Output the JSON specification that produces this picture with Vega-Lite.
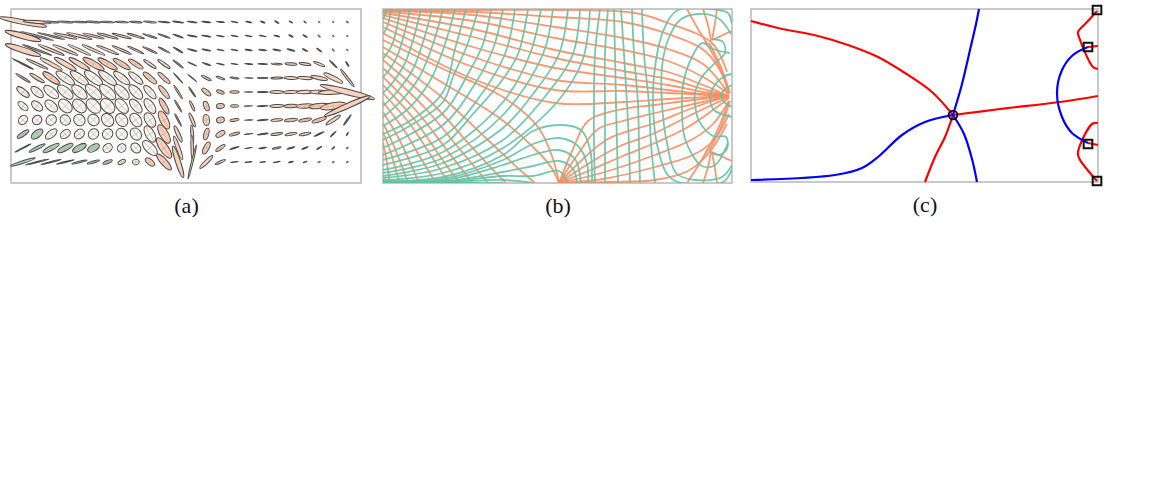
{"$schema":"https://vega.github.io/schema/vega-lite/v6.json","background":"white","padding":{"left":-4,"top":0,"right":0,"bottom":0},"spacing":12,"resolve":{"scale":{"color":"independent","shape":"independent"}},"config":{"view":{"stroke":"#b8b8b8","strokeWidth":1.5},"axis":{"titleFont":"Liberation Serif","titleFontSize":22,"titleFontWeight":"normal","titleColor":"#111","titlePadding":12}},
"hconcat":[{"bounds":"flush","spacing":22,"resolve":{"scale":{"color":"independent","shape":"independent"}},"hconcat":[
{"width":350,"height":174,"data":{"values":[
{"c":0,"r":0,"l":48,"a":10,"t":11,"k":"p"},{"c":1,"r":0,"l":28,"a":10,"t":4,"k":"p"},{"c":2,"r":0,"l":16,"a":10,"t":3,"k":"p"},{"c":3,"r":0,"l":16,"a":10,"t":3,"k":"p"},{"c":4,"r":0,"l":15,"a":10,"t":3,"k":"p"},{"c":5,"r":0,"l":15,"a":10,"t":4,"k":"p"},{"c":6,"r":0,"l":14,"a":10,"t":4,"k":"p"},{"c":7,"r":0,"l":14,"a":10,"t":4,"k":"p"},{"c":8,"r":0,"l":13,"a":10,"t":5,"k":"p"},{"c":9,"r":0,"l":13,"a":10,"t":6,"k":"p"},{"c":10,"r":0,"l":12,"a":10,"t":6,"k":"p"},{"c":11,"r":0,"l":11,"a":10,"t":8,"k":"p"},{"c":12,"r":0,"l":10,"a":10,"t":8,"k":"p"},{"c":13,"r":0,"l":9,"a":10,"t":6,"k":"p"},{"c":14,"r":0,"l":8,"a":10,"t":6,"k":"p"},{"c":15,"r":0,"l":7,"a":10,"t":10,"k":"p"},{"c":16,"r":0,"l":6,"a":15,"t":12,"k":"p"},{"c":17,"r":0,"l":5,"a":20,"t":20,"k":"p"},{"c":18,"r":0,"l":5,"a":20,"t":30,"k":"p"},{"c":19,"r":0,"l":4,"a":20,"t":30,"k":"p"},{"c":20,"r":0,"l":3,"a":20,"t":40,"k":"p"},{"c":21,"r":0,"l":2,"a":30,"t":40,"k":"p"},{"c":22,"r":0,"l":1.5,"a":50,"t":40,"k":"p"},{"c":23,"r":0,"l":2,"a":50,"t":40,"k":"p"},
{"c":0,"r":1,"l":37,"a":15,"t":15,"k":"p"},{"c":1,"r":1,"l":34,"a":5,"t":15,"k":"p"},{"c":2,"r":1,"l":28,"a":5,"t":14,"k":"p"},{"c":3,"r":1,"l":24,"a":10,"t":14,"k":"p"},{"c":4,"r":1,"l":26,"a":10,"t":14,"k":"p"},{"c":5,"r":1,"l":22,"a":10,"t":14,"k":"p"},{"c":6,"r":1,"l":22,"a":10,"t":15,"k":"p"},{"c":7,"r":1,"l":20,"a":10,"t":15,"k":"p"},{"c":8,"r":1,"l":18,"a":10,"t":17,"k":"p"},{"c":9,"r":1,"l":15,"a":10,"t":18,"k":"p"},{"c":10,"r":1,"l":13,"a":10,"t":20,"k":"p"},{"c":11,"r":1,"l":11,"a":10,"t":20,"k":"p"},{"c":12,"r":1,"l":10,"a":10,"t":10,"k":"p"},{"c":13,"r":1,"l":9,"a":10,"t":10,"k":"p"},{"c":14,"r":1,"l":8,"a":10,"t":10,"k":"p"},{"c":15,"r":1,"l":7,"a":10,"t":10,"k":"p"},{"c":16,"r":1,"l":7,"a":10,"t":10,"k":"p"},{"c":17,"r":1,"l":7,"a":10,"t":12,"k":"p"},{"c":18,"r":1,"l":6,"a":15,"t":15,"k":"p"},{"c":19,"r":1,"l":5,"a":20,"t":25,"k":"p"},{"c":20,"r":1,"l":5,"a":20,"t":30,"k":"p"},{"c":21,"r":1,"l":3,"a":25,"t":45,"k":"p"},{"c":22,"r":1,"l":2,"a":30,"t":45,"k":"p"},{"c":23,"r":1,"l":1.5,"a":50,"t":45,"k":"p"},
{"c":0,"r":2,"l":37,"a":15,"t":18,"k":"p"},{"c":1,"r":2,"l":31,"a":5,"t":20,"k":"p"},{"c":2,"r":2,"l":28,"a":10,"t":22,"k":"p"},{"c":3,"r":2,"l":27,"a":10,"t":22,"k":"p"},{"c":4,"r":2,"l":25,"a":10,"t":25,"k":"p"},{"c":5,"r":2,"l":25,"a":10,"t":24,"k":"p"},{"c":6,"r":2,"l":24,"a":10,"t":22,"k":"p"},{"c":7,"r":2,"l":21,"a":10,"t":24,"k":"p"},{"c":8,"r":2,"l":18,"a":10,"t":25,"k":"p"},{"c":9,"r":2,"l":16,"a":10,"t":25,"k":"p"},{"c":10,"r":2,"l":13,"a":10,"t":27,"k":"p"},{"c":11,"r":2,"l":11,"a":10,"t":30,"k":"p"},{"c":12,"r":2,"l":10,"a":10,"t":15,"k":"p"},{"c":13,"r":2,"l":9,"a":10,"t":12,"k":"p"},{"c":14,"r":2,"l":7,"a":10,"t":10,"k":"p"},{"c":15,"r":2,"l":7,"a":10,"t":10,"k":"p"},{"c":16,"r":2,"l":7,"a":15,"t":8,"k":"p"},{"c":17,"r":2,"l":8,"a":15,"t":6,"k":"p"},{"c":18,"r":2,"l":8,"a":15,"t":10,"k":"p"},{"c":19,"r":2,"l":8,"a":15,"t":15,"k":"p"},{"c":20,"r":2,"l":6,"a":15,"t":25,"k":"p"},{"c":21,"r":2,"l":6,"a":15,"t":35,"k":"p"},{"c":22,"r":2,"l":3,"a":25,"t":50,"k":"p"},{"c":23,"r":2,"l":2,"a":30,"t":50,"k":"p"},
{"c":0,"r":3,"l":24,"a":5,"t":27,"k":"p"},{"c":1,"r":3,"l":24,"a":10,"t":25,"k":"p"},{"c":2,"r":3,"l":25,"a":15,"t":28,"k":"p"},{"c":3,"r":3,"l":25,"a":20,"t":30,"k":"p"},{"c":4,"r":3,"l":24,"a":20,"t":30,"k":"p"},{"c":5,"r":3,"l":24,"a":25,"t":30,"k":"p"},{"c":6,"r":3,"l":22,"a":25,"t":30,"k":"p"},{"c":7,"r":3,"l":20,"a":25,"t":32,"k":"p"},{"c":8,"r":3,"l":17,"a":25,"t":32,"k":"p"},{"c":9,"r":3,"l":15,"a":20,"t":35,"k":"p"},{"c":10,"r":3,"l":15,"a":20,"t":35,"k":"p"},{"c":11,"r":3,"l":13,"a":10,"t":38,"k":"p"},{"c":12,"r":3,"l":10,"a":5,"t":25,"k":"p"},{"c":13,"r":3,"l":9,"a":10,"t":20,"k":"p"},{"c":14,"r":3,"l":8,"a":10,"t":12,"k":"p"},{"c":15,"r":3,"l":7,"a":10,"t":8,"k":"p"},{"c":16,"r":3,"l":8,"a":10,"t":5,"k":"p"},{"c":17,"r":3,"l":10,"a":10,"t":3,"k":"p"},{"c":18,"r":3,"l":11,"a":15,"t":3,"k":"p"},{"c":19,"r":3,"l":12,"a":20,"t":5,"k":"p"},{"c":20,"r":3,"l":12,"a":20,"t":10,"k":"p"},{"c":21,"r":3,"l":12,"a":20,"t":22,"k":"p"},{"c":22,"r":3,"l":11,"a":10,"t":45,"k":"p"},{"c":23,"r":3,"l":6,"a":15,"t":60,"k":"p"},
{"c":0,"r":4,"l":17,"a":10,"t":32,"k":"p"},{"c":1,"r":4,"l":17,"a":20,"t":32,"k":"p"},{"c":2,"r":4,"l":20,"a":30,"t":35,"k":"p"},{"c":3,"r":4,"l":22,"a":35,"t":35,"k":"w"},{"c":4,"r":4,"l":22,"a":35,"t":37,"k":"w"},{"c":5,"r":4,"l":22,"a":40,"t":38,"k":"w"},{"c":6,"r":4,"l":22,"a":35,"t":38,"k":"w"},{"c":7,"r":4,"l":20,"a":35,"t":38,"k":"w"},{"c":8,"r":4,"l":18,"a":35,"t":40,"k":"w"},{"c":9,"r":4,"l":17,"a":30,"t":40,"k":"p"},{"c":10,"r":4,"l":16,"a":25,"t":42,"k":"p"},{"c":11,"r":4,"l":14,"a":5,"t":48,"k":"p"},{"c":12,"r":4,"l":12,"a":5,"t":40,"k":"p"},{"c":13,"r":4,"l":11,"a":20,"t":28,"k":"p"},{"c":14,"r":4,"l":9,"a":20,"t":20,"k":"p"},{"c":15,"r":4,"l":9,"a":15,"t":8,"k":"p"},{"c":16,"r":4,"l":9,"a":5,"t":2,"k":"p"},{"c":17,"r":4,"l":11,"a":10,"t":0,"k":"p"},{"c":18,"r":4,"l":12,"a":15,"t":-1,"k":"p"},{"c":19,"r":4,"l":14,"a":20,"t":2,"k":"p"},{"c":20,"r":4,"l":15,"a":20,"t":5,"k":"p"},{"c":21,"r":4,"l":17,"a":20,"t":12,"k":"p"},{"c":22,"r":4,"l":21,"a":20,"t":27,"k":"p"},{"c":23,"r":4,"l":22,"a":10,"t":52,"k":"p"},
{"c":0,"r":5,"l":15,"a":40,"t":38,"k":"w"},{"c":1,"r":5,"l":15,"a":50,"t":40,"k":"w"},{"c":2,"r":5,"l":18,"a":50,"t":40,"k":"w"},{"c":3,"r":5,"l":19,"a":50,"t":40,"k":"w"},{"c":4,"r":5,"l":19,"a":50,"t":42,"k":"w"},{"c":5,"r":5,"l":20,"a":50,"t":42,"k":"w"},{"c":6,"r":5,"l":20,"a":50,"t":42,"k":"w"},{"c":7,"r":5,"l":19,"a":50,"t":45,"k":"w"},{"c":8,"r":5,"l":18,"a":50,"t":47,"k":"w"},{"c":9,"r":5,"l":17,"a":40,"t":48,"k":"w"},{"c":10,"r":5,"l":16,"a":30,"t":52,"k":"p"},{"c":11,"r":5,"l":16,"a":10,"t":58,"k":"p"},{"c":12,"r":5,"l":12,"a":10,"t":55,"k":"p"},{"c":13,"r":5,"l":11,"a":40,"t":40,"k":"p"},{"c":14,"r":5,"l":8,"a":40,"t":20,"k":"p"},{"c":15,"r":5,"l":10,"a":25,"t":0,"k":"p"},{"c":16,"r":5,"l":9,"a":5,"t":-1,"k":"p"},{"c":17,"r":5,"l":11,"a":10,"t":-1,"k":"p"},{"c":18,"r":5,"l":14,"a":20,"t":-1,"k":"p"},{"c":19,"r":5,"l":15,"a":20,"t":-2,"k":"p"},{"c":20,"r":5,"l":17,"a":20,"t":-2,"k":"p"},{"c":21,"r":5,"l":19,"a":20,"t":0,"k":"p"},{"c":22,"r":5,"l":30,"a":15,"t":-3,"k":"p"},{"c":23,"r":5,"l":56,"a":10,"t":14,"k":"p"},
{"c":0,"r":6,"l":12,"a":50,"t":40,"k":"w"},{"c":1,"r":6,"l":13,"a":60,"t":40,"k":"w"},{"c":2,"r":6,"l":15,"a":60,"t":42,"k":"w"},{"c":3,"r":6,"l":16,"a":70,"t":45,"k":"w"},{"c":4,"r":6,"l":16,"a":70,"t":45,"k":"w"},{"c":5,"r":6,"l":17,"a":70,"t":45,"k":"w"},{"c":6,"r":6,"l":17,"a":70,"t":47,"k":"w"},{"c":7,"r":6,"l":17,"a":60,"t":50,"k":"w"},{"c":8,"r":6,"l":17,"a":50,"t":50,"k":"w"},{"c":9,"r":6,"l":17,"a":50,"t":55,"k":"w"},{"c":10,"r":6,"l":18,"a":30,"t":60,"k":"p"},{"c":11,"r":6,"l":14,"a":10,"t":60,"k":"p"},{"c":12,"r":6,"l":11,"a":20,"t":65,"k":"p"},{"c":13,"r":6,"l":10,"a":50,"t":70,"k":"p"},{"c":14,"r":6,"l":8,"a":60,"t":-5,"k":"p"},{"c":15,"r":6,"l":9,"a":30,"t":0,"k":"p"},{"c":16,"r":6,"l":9,"a":5,"t":-2,"k":"p"},{"c":17,"r":6,"l":11,"a":10,"t":-2,"k":"p"},{"c":18,"r":6,"l":14,"a":20,"t":-2,"k":"p"},{"c":19,"r":6,"l":14,"a":25,"t":-2,"k":"p"},{"c":20,"r":6,"l":17,"a":25,"t":-3,"k":"p"},{"c":21,"r":6,"l":20,"a":25,"t":-5,"k":"p"},{"c":22,"r":6,"l":26,"a":25,"t":-10,"k":"p"},{"c":23,"r":6,"l":50,"a":10,"t":-24,"k":"p"},
{"c":0,"r":7,"l":10,"a":80,"t":-45,"k":"w"},{"c":1,"r":7,"l":10,"a":90,"t":-45,"k":"w"},{"c":2,"r":7,"l":11,"a":90,"t":-45,"k":"w"},{"c":3,"r":7,"l":11,"a":90,"t":45,"k":"w"},{"c":4,"r":7,"l":12,"a":90,"t":45,"k":"w"},{"c":5,"r":7,"l":12,"a":90,"t":45,"k":"w"},{"c":6,"r":7,"l":14,"a":80,"t":50,"k":"w"},{"c":7,"r":7,"l":14,"a":80,"t":52,"k":"w"},{"c":8,"r":7,"l":15,"a":70,"t":55,"k":"w"},{"c":9,"r":7,"l":16,"a":60,"t":58,"k":"w"},{"c":10,"r":7,"l":20,"a":40,"t":63,"k":"p"},{"c":11,"r":7,"l":14,"a":10,"t":62,"k":"p"},{"c":12,"r":7,"l":15,"a":20,"t":68,"k":"p"},{"c":13,"r":7,"l":11,"a":60,"t":85,"k":"p"},{"c":14,"r":7,"l":8,"a":70,"t":-10,"k":"p"},{"c":15,"r":7,"l":9,"a":30,"t":-8,"k":"p"},{"c":16,"r":7,"l":9,"a":5,"t":-4,"k":"p"},{"c":17,"r":7,"l":11,"a":10,"t":-5,"k":"p"},{"c":18,"r":7,"l":12,"a":20,"t":-5,"k":"p"},{"c":19,"r":7,"l":13,"a":25,"t":-6,"k":"p"},{"c":20,"r":7,"l":13,"a":25,"t":-10,"k":"p"},{"c":21,"r":7,"l":15,"a":25,"t":-18,"k":"p"},{"c":22,"r":7,"l":17,"a":20,"t":-33,"k":"p"},{"c":23,"r":7,"l":13,"a":10,"t":-55,"k":"p"},
{"c":0,"r":8,"l":14,"a":30,"t":-35,"k":"g"},{"c":1,"r":8,"l":14,"a":50,"t":-38,"k":"g"},{"c":2,"r":8,"l":14,"a":50,"t":-40,"k":"w"},{"c":3,"r":8,"l":11,"a":70,"t":-40,"k":"w"},{"c":4,"r":8,"l":11,"a":80,"t":-40,"k":"w"},{"c":5,"r":8,"l":11,"a":90,"t":-45,"k":"w"},{"c":6,"r":8,"l":11,"a":90,"t":-45,"k":"w"},{"c":7,"r":8,"l":12,"a":90,"t":45,"k":"w"},{"c":8,"r":8,"l":13,"a":80,"t":55,"k":"w"},{"c":9,"r":8,"l":18,"a":50,"t":60,"k":"w"},{"c":10,"r":8,"l":21,"a":40,"t":60,"k":"p"},{"c":11,"r":8,"l":18,"a":20,"t":65,"k":"p"},{"c":12,"r":8,"l":18,"a":15,"t":85,"k":"p"},{"c":13,"r":8,"l":12,"a":40,"t":-75,"k":"p"},{"c":14,"r":8,"l":10,"a":50,"t":-30,"k":"p"},{"c":15,"r":8,"l":11,"a":25,"t":-15,"k":"p"},{"c":16,"r":8,"l":9,"a":5,"t":-8,"k":"p"},{"c":17,"r":8,"l":11,"a":10,"t":-8,"k":"p"},{"c":18,"r":8,"l":12,"a":20,"t":-8,"k":"p"},{"c":19,"r":8,"l":12,"a":20,"t":-10,"k":"p"},{"c":20,"r":8,"l":12,"a":20,"t":-12,"k":"p"},{"c":21,"r":8,"l":11,"a":10,"t":-25,"k":"p"},{"c":22,"r":8,"l":8,"a":10,"t":-45,"k":"p"},{"c":23,"r":8,"l":4,"a":20,"t":-60,"k":"p"},
{"c":0,"r":9,"l":18,"a":5,"t":-27,"k":"g"},{"c":1,"r":9,"l":18,"a":15,"t":-27,"k":"g"},{"c":2,"r":9,"l":18,"a":25,"t":-28,"k":"g"},{"c":3,"r":9,"l":17,"a":30,"t":-28,"k":"g"},{"c":4,"r":9,"l":15,"a":40,"t":-28,"k":"g"},{"c":5,"r":9,"l":13,"a":50,"t":-28,"k":"g"},{"c":6,"r":9,"l":10,"a":80,"t":-40,"k":"w"},{"c":7,"r":9,"l":9,"a":90,"t":-45,"k":"w"},{"c":8,"r":9,"l":11,"a":80,"t":45,"k":"w"},{"c":9,"r":9,"l":19,"a":50,"t":45,"k":"w"},{"c":10,"r":9,"l":24,"a":35,"t":55,"k":"p"},{"c":11,"r":9,"l":25,"a":15,"t":70,"k":"p"},{"c":12,"r":9,"l":25,"a":10,"t":88,"k":"p"},{"c":13,"r":9,"l":13,"a":40,"t":-62,"k":"p"},{"c":14,"r":9,"l":11,"a":30,"t":-35,"k":"p"},{"c":15,"r":9,"l":10,"a":10,"t":-18,"k":"p"},{"c":16,"r":9,"l":8,"a":5,"t":-10,"k":"p"},{"c":17,"r":9,"l":8,"a":10,"t":-10,"k":"p"},{"c":18,"r":9,"l":9,"a":15,"t":-12,"k":"p"},{"c":19,"r":9,"l":8,"a":15,"t":-15,"k":"p"},{"c":20,"r":9,"l":7,"a":15,"t":-22,"k":"p"},{"c":21,"r":9,"l":6,"a":15,"t":-30,"k":"p"},{"c":22,"r":9,"l":4,"a":20,"t":-40,"k":"p"},{"c":23,"r":9,"l":2,"a":50,"t":-40,"k":"p"},
{"c":0,"r":10,"l":26,"a":10,"t":-18,"k":"g"},{"c":1,"r":10,"l":24,"a":5,"t":-14,"k":"g"},{"c":2,"r":10,"l":21,"a":5,"t":-14,"k":"g"},{"c":3,"r":10,"l":18,"a":5,"t":-14,"k":"g"},{"c":4,"r":10,"l":16,"a":10,"t":-14,"k":"g"},{"c":5,"r":10,"l":13,"a":15,"t":-16,"k":"g"},{"c":6,"r":10,"l":10,"a":30,"t":-20,"k":"g"},{"c":7,"r":10,"l":8,"a":50,"t":-25,"k":"w"},{"c":8,"r":10,"l":7,"a":80,"t":0,"k":"w"},{"c":9,"r":10,"l":11,"a":50,"t":40,"k":"p"},{"c":10,"r":10,"l":21,"a":30,"t":48,"k":"p"},{"c":11,"r":10,"l":33,"a":15,"t":72,"k":"p"},{"c":12,"r":10,"l":35,"a":5,"t":-76,"k":"p"},{"c":13,"r":10,"l":18,"a":20,"t":-45,"k":"p"},{"c":14,"r":10,"l":11,"a":20,"t":-25,"k":"p"},{"c":15,"r":10,"l":8,"a":5,"t":-6,"k":"p"},{"c":16,"r":10,"l":7,"a":10,"t":-6,"k":"p"},{"c":17,"r":10,"l":6,"a":10,"t":-8,"k":"p"},{"c":18,"r":10,"l":7,"a":10,"t":-10,"k":"p"},{"c":19,"r":10,"l":5,"a":20,"t":-15,"k":"p"},{"c":20,"r":10,"l":4,"a":20,"t":-20,"k":"p"},{"c":21,"r":10,"l":2.5,"a":30,"t":-30,"k":"p"},{"c":22,"r":10,"l":2,"a":50,"t":-30,"k":"p"},{"c":23,"r":10,"l":2,"a":50,"t":-30,"k":"p"}
]},
"encoding":{"x":{"field":"c","type":"quantitative","scale":{"domain":[-0.851,23.97],"nice":false,"zero":false},"axis":{"title":"(a)","domain":false,"ticks":false,"labels":false,"grid":false}},
"y":{"field":"r","type":"quantitative","scale":{"domain":[-0.93,11.5],"reverse":true,"nice":false,"zero":false},"axis":null},
"size":{"field":"l","type":"quantitative","scale":{"type":"pow","exponent":2,"domain":[0,60],"range":[0,3600]},"legend":null},
"angle":{"field":"t","type":"quantitative","scale":{"domain":[-90,90],"range":[-90,90]}}},
"resolve":{"scale":{"shape":"independent"}},
"layer":[
{"mark":{"type":"point","filled":true,"opacity":1,"stroke":"#4a4a4a","strokeWidth":1},"encoding":{"fill":{"field":"k","type":"nominal","scale":{"domain":["p","w","g"],"range":["#f8d2bd","#f7f5ef","#a8d2bf"]},"legend":null},"shape":{"field":"a","type":"ordinal","legend":null,"scale":{"domain":[5,10,15,20,25,30,35,40,50,60,70,80,90],"range":["M-1,0A1,0.05,0,1,1,1,0A1,0.05,0,1,1,-1,0Z","M-1,0A1,0.1,0,1,1,1,0A1,0.1,0,1,1,-1,0Z","M-1,0A1,0.15,0,1,1,1,0A1,0.15,0,1,1,-1,0Z","M-1,0A1,0.2,0,1,1,1,0A1,0.2,0,1,1,-1,0Z","M-1,0A1,0.25,0,1,1,1,0A1,0.25,0,1,1,-1,0Z","M-1,0A1,0.3,0,1,1,1,0A1,0.3,0,1,1,-1,0Z","M-1,0A1,0.35,0,1,1,1,0A1,0.35,0,1,1,-1,0Z","M-1,0A1,0.4,0,1,1,1,0A1,0.4,0,1,1,-1,0Z","M-1,0A1,0.5,0,1,1,1,0A1,0.5,0,1,1,-1,0Z","M-1,0A1,0.6,0,1,1,1,0A1,0.6,0,1,1,-1,0Z","M-1,0A1,0.7,0,1,1,1,0A1,0.7,0,1,1,-1,0Z","M-1,0A1,0.8,0,1,1,1,0A1,0.8,0,1,1,-1,0Z","M-1,0A1,0.9,0,1,1,1,0A1,0.9,0,1,1,-1,0Z"]}}}},
{"transform":[{"filter":"datum.a>=25"}],"mark":{"type":"point","filled":false,"opacity":0.75,"stroke":"#fc8d62","strokeWidth":0.7,"shape":"M-1,0L1,0"},"encoding":{}},
{"transform":[{"filter":"datum.a>=25"}],"mark":{"type":"point","filled":false,"opacity":0.75,"stroke":"#66c2a5","strokeWidth":0.7},"encoding":{"shape":{"field":"a","type":"ordinal","legend":null,"scale":{"domain":[25,30,35,40,50,60,70,80,90],"range":["M0,-0.25L0,0.25","M0,-0.3L0,0.3","M0,-0.35L0,0.35","M0,-0.4L0,0.4","M0,-0.5L0,0.5","M0,-0.6L0,0.6","M0,-0.7L0,0.7","M0,-0.8L0,0.8","M0,-0.9L0,0.9"]}}}}
]},
{"width":349,"height":174,"data":{"values":[
{"n":1,"f":"o","x":0,"y":0.5},{"n":1,"f":"o","x":100,"y":1},{"n":1,"f":"o","x":172,"y":1},{"n":1,"f":"o","x":252,"y":4},{"n":1,"f":"o","x":285,"y":14},{"n":1,"f":"o","x":329,"y":34},{"n":1,"f":"o","x":344,"y":63},
{"n":2,"f":"o","x":0,"y":1},{"n":2,"f":"o","x":90,"y":3},{"n":2,"f":"o","x":172,"y":8},{"n":2,"f":"o","x":240,"y":13},{"n":2,"f":"o","x":285,"y":25},{"n":2,"f":"o","x":322,"y":42},{"n":2,"f":"o","x":342,"y":70},
{"n":3,"f":"o","x":0,"y":1.5},{"n":3,"f":"o","x":90,"y":6},{"n":3,"f":"o","x":172,"y":18},{"n":3,"f":"o","x":240,"y":29},{"n":3,"f":"o","x":285,"y":40},{"n":3,"f":"o","x":320,"y":55},{"n":3,"f":"o","x":346,"y":85},
{"n":4,"f":"o","x":0,"y":2.5},{"n":4,"f":"o","x":90,"y":12},{"n":4,"f":"o","x":172,"y":29},{"n":4,"f":"o","x":240,"y":41},{"n":4,"f":"o","x":285,"y":52},{"n":4,"f":"o","x":320,"y":68},{"n":4,"f":"o","x":346,"y":85},
{"n":5,"f":"o","x":0,"y":4},{"n":5,"f":"o","x":90,"y":20},{"n":5,"f":"o","x":172,"y":41},{"n":5,"f":"o","x":240,"y":54},{"n":5,"f":"o","x":285,"y":63},{"n":5,"f":"o","x":320,"y":76},{"n":5,"f":"o","x":346,"y":87},
{"n":6,"f":"o","x":0,"y":6},{"n":6,"f":"o","x":90,"y":28},{"n":6,"f":"o","x":172,"y":49},{"n":6,"f":"o","x":240,"y":62},{"n":6,"f":"o","x":285,"y":70},{"n":6,"f":"o","x":320,"y":80},{"n":6,"f":"o","x":346,"y":87},
{"n":7,"f":"o","x":0,"y":9},{"n":7,"f":"o","x":90,"y":38},{"n":7,"f":"o","x":172,"y":59},{"n":7,"f":"o","x":240,"y":69},{"n":7,"f":"o","x":285,"y":76},{"n":7,"f":"o","x":320,"y":83},{"n":7,"f":"o","x":346,"y":87},
{"n":8,"f":"o","x":0,"y":13},{"n":8,"f":"o","x":90,"y":48},{"n":8,"f":"o","x":172,"y":71},{"n":8,"f":"o","x":240,"y":76},{"n":8,"f":"o","x":285,"y":81},{"n":8,"f":"o","x":320,"y":85},{"n":8,"f":"o","x":346,"y":87},
{"n":9,"f":"o","x":0,"y":18},{"n":9,"f":"o","x":90,"y":58},{"n":9,"f":"o","x":172,"y":81},{"n":9,"f":"o","x":240,"y":82},{"n":9,"f":"o","x":285,"y":84},{"n":9,"f":"o","x":346,"y":87},
{"n":10,"f":"o","x":0,"y":24},{"n":10,"f":"o","x":90,"y":70},{"n":10,"f":"o","x":172,"y":94},{"n":10,"f":"o","x":240,"y":93},{"n":10,"f":"o","x":285,"y":90},{"n":10,"f":"o","x":346,"y":87},
{"n":11,"f":"o","x":176,"y":174},{"n":11,"f":"o","x":190,"y":140},{"n":11,"f":"o","x":205,"y":112},{"n":11,"f":"o","x":235,"y":101},{"n":11,"f":"o","x":272,"y":96},{"n":11,"f":"o","x":310,"y":91},{"n":11,"f":"o","x":346,"y":87},
{"n":12,"f":"o","x":176,"y":174},{"n":12,"f":"o","x":195,"y":145},{"n":12,"f":"o","x":215,"y":120},{"n":12,"f":"o","x":240,"y":112},{"n":12,"f":"o","x":272,"y":104},{"n":12,"f":"o","x":315,"y":94},{"n":12,"f":"o","x":346,"y":87},
{"n":13,"f":"o","x":176,"y":174},{"n":13,"f":"o","x":200,"y":150},{"n":13,"f":"o","x":225,"y":130},{"n":13,"f":"o","x":272,"y":114},{"n":13,"f":"o","x":315,"y":97},{"n":13,"f":"o","x":346,"y":87},
{"n":14,"f":"o","x":176,"y":174},{"n":14,"f":"o","x":205,"y":155},{"n":14,"f":"o","x":235,"y":138},{"n":14,"f":"o","x":272,"y":124},{"n":14,"f":"o","x":310,"y":105},{"n":14,"f":"o","x":346,"y":88},
{"n":15,"f":"o","x":176,"y":174},{"n":15,"f":"o","x":210,"y":160},{"n":15,"f":"o","x":240,"y":147},{"n":15,"f":"o","x":272,"y":134},{"n":15,"f":"o","x":305,"y":118},{"n":15,"f":"o","x":346,"y":89},
{"n":16,"f":"o","x":176,"y":174},{"n":16,"f":"o","x":215,"y":165},{"n":16,"f":"o","x":272,"y":146},{"n":16,"f":"o","x":310,"y":130},{"n":16,"f":"o","x":330,"y":115},{"n":16,"f":"o","x":346,"y":92},
{"n":17,"f":"o","x":176,"y":174},{"n":17,"f":"o","x":220,"y":170},{"n":17,"f":"o","x":272,"y":158},{"n":17,"f":"o","x":310,"y":146},{"n":17,"f":"o","x":330,"y":132},{"n":17,"f":"o","x":346,"y":105},
{"n":18,"f":"o","x":176,"y":174},{"n":18,"f":"o","x":225,"y":173},{"n":18,"f":"o","x":272,"y":171},{"n":18,"f":"o","x":305,"y":162},{"n":18,"f":"o","x":325,"y":145},{"n":18,"f":"o","x":344,"y":115},
{"n":19,"f":"o","x":0,"y":31},{"n":19,"f":"o","x":60,"y":60},{"n":19,"f":"o","x":120,"y":88},{"n":19,"f":"o","x":155,"y":118},{"n":19,"f":"o","x":170,"y":150},{"n":19,"f":"o","x":176,"y":174},
{"n":20,"f":"o","x":0,"y":38},{"n":20,"f":"o","x":60,"y":74},{"n":20,"f":"o","x":115,"y":108},{"n":20,"f":"o","x":150,"y":138},{"n":20,"f":"o","x":168,"y":158},{"n":20,"f":"o","x":176,"y":174},
{"n":23,"f":"o","x":0,"y":44},{"n":23,"f":"o","x":61,"y":90},{"n":23,"f":"o","x":106,"y":132},{"n":23,"f":"o","x":137,"y":161},{"n":23,"f":"o","x":152,"y":174},
{"n":24,"f":"o","x":0,"y":51},{"n":24,"f":"o","x":49,"y":94},{"n":24,"f":"o","x":86,"y":135},{"n":24,"f":"o","x":111,"y":162},{"n":24,"f":"o","x":123,"y":174},
{"n":25,"f":"o","x":0,"y":59},{"n":25,"f":"o","x":42,"y":99},{"n":25,"f":"o","x":74,"y":137},{"n":25,"f":"o","x":95,"y":162},{"n":25,"f":"o","x":105,"y":174},
{"n":26,"f":"o","x":0,"y":68},{"n":26,"f":"o","x":36,"y":105},{"n":26,"f":"o","x":63,"y":140},{"n":26,"f":"o","x":81,"y":163},{"n":26,"f":"o","x":90,"y":174},
{"n":27,"f":"o","x":0,"y":76},{"n":27,"f":"o","x":31,"y":110},{"n":27,"f":"o","x":54,"y":143},{"n":27,"f":"o","x":69,"y":164},{"n":27,"f":"o","x":77,"y":174},
{"n":28,"f":"o","x":0,"y":84},{"n":28,"f":"o","x":27,"y":115},{"n":28,"f":"o","x":47,"y":145},{"n":28,"f":"o","x":60,"y":165},{"n":28,"f":"o","x":67,"y":174},
{"n":29,"f":"o","x":0,"y":93},{"n":29,"f":"o","x":21,"y":121},{"n":29,"f":"o","x":37,"y":148},{"n":29,"f":"o","x":48,"y":166},{"n":29,"f":"o","x":53,"y":174},
{"n":30,"f":"o","x":0,"y":103},{"n":30,"f":"o","x":15,"y":128},{"n":30,"f":"o","x":26,"y":151},{"n":30,"f":"o","x":33,"y":167},{"n":30,"f":"o","x":37,"y":174},
{"n":31,"f":"o","x":0,"y":114},{"n":31,"f":"o","x":10,"y":135},{"n":31,"f":"o","x":18,"y":155},{"n":31,"f":"o","x":23,"y":168},{"n":31,"f":"o","x":25,"y":174},
{"n":32,"f":"o","x":0,"y":123},{"n":32,"f":"o","x":7,"y":141},{"n":32,"f":"o","x":12,"y":158},{"n":32,"f":"o","x":15,"y":169},{"n":32,"f":"o","x":17,"y":174},
{"n":21,"f":"o","x":0,"y":134},{"n":21,"f":"o","x":3,"y":148},{"n":21,"f":"o","x":5,"y":161},{"n":21,"f":"o","x":7,"y":174},
{"n":33,"f":"o","x":304,"y":0},{"n":33,"f":"o","x":315,"y":20},{"n":33,"f":"o","x":325,"y":36},
{"n":34,"f":"o","x":320,"y":0},{"n":34,"f":"o","x":325,"y":16},{"n":34,"f":"o","x":328,"y":32},
{"n":35,"f":"o","x":334,"y":0},{"n":35,"f":"o","x":332,"y":14},{"n":35,"f":"o","x":329,"y":31},
{"n":36,"f":"o","x":329,"y":31},{"n":36,"f":"o","x":340,"y":26},{"n":36,"f":"o","x":349,"y":22},
{"n":37,"f":"o","x":304,"y":174},{"n":37,"f":"o","x":315,"y":157},{"n":37,"f":"o","x":325,"y":140},
{"n":38,"f":"o","x":320,"y":174},{"n":38,"f":"o","x":325,"y":158},{"n":38,"f":"o","x":328,"y":142},
{"n":39,"f":"o","x":334,"y":174},{"n":39,"f":"o","x":332,"y":160},{"n":39,"f":"o","x":329,"y":143},
{"n":40,"f":"o","x":329,"y":143},{"n":40,"f":"o","x":340,"y":148},{"n":40,"f":"o","x":349,"y":152},
{"n":41,"f":"o","x":322,"y":32},{"n":41,"f":"o","x":335,"y":55},{"n":41,"f":"o","x":346,"y":84},
{"n":42,"f":"o","x":326,"y":34},{"n":42,"f":"o","x":338,"y":58},{"n":42,"f":"o","x":347,"y":84},
{"n":43,"f":"o","x":322,"y":145},{"n":43,"f":"o","x":335,"y":120},{"n":43,"f":"o","x":346,"y":92},
{"n":44,"f":"o","x":326,"y":142},{"n":44,"f":"o","x":338,"y":118},{"n":44,"f":"o","x":347,"y":92},
{"n":50,"f":"t","x":3,"y":0},{"n":50,"f":"t","x":2.5,"y":3.5},{"n":50,"f":"t","x":1.6,"y":7},{"n":50,"f":"t","x":0.8,"y":9},{"n":50,"f":"t","x":0,"y":10},
{"n":51,"f":"t","x":8,"y":0},{"n":51,"f":"t","x":6.6,"y":9},{"n":51,"f":"t","x":4.4,"y":17},{"n":51,"f":"t","x":2,"y":22},{"n":51,"f":"t","x":0,"y":25},
{"n":52,"f":"t","x":17,"y":0},{"n":52,"f":"t","x":14,"y":18},{"n":52,"f":"t","x":9.4,"y":35},{"n":52,"f":"t","x":4.2,"y":44},{"n":52,"f":"t","x":0,"y":50},
{"n":53,"f":"t","x":27,"y":0},{"n":53,"f":"t","x":22,"y":22},{"n":53,"f":"t","x":15,"y":45},{"n":53,"f":"t","x":7,"y":60},{"n":53,"f":"t","x":0,"y":68},
{"n":54,"f":"t","x":38,"y":0},{"n":54,"f":"t","x":31,"y":28},{"n":54,"f":"t","x":22,"y":54},{"n":54,"f":"t","x":10,"y":73},{"n":54,"f":"t","x":0,"y":84},
{"n":55,"f":"t","x":49,"y":0},{"n":55,"f":"t","x":41,"y":30},{"n":55,"f":"t","x":30,"y":60},{"n":55,"f":"t","x":14,"y":83},{"n":55,"f":"t","x":0,"y":97},
{"n":56,"f":"t","x":60,"y":0},{"n":56,"f":"t","x":51,"y":32},{"n":56,"f":"t","x":37,"y":67},{"n":56,"f":"t","x":18,"y":92},{"n":56,"f":"t","x":0,"y":108},
{"n":57,"f":"t","x":72,"y":0},{"n":57,"f":"t","x":62,"y":35},{"n":57,"f":"t","x":47,"y":72},{"n":57,"f":"t","x":25,"y":100},{"n":57,"f":"t","x":0,"y":117},
{"n":58,"f":"t","x":83,"y":0},{"n":58,"f":"t","x":72,"y":40},{"n":58,"f":"t","x":60,"y":83},{"n":58,"f":"t","x":30,"y":110},{"n":58,"f":"t","x":0,"y":125},
{"n":59,"f":"t","x":95,"y":0},{"n":59,"f":"t","x":85,"y":34},{"n":59,"f":"t","x":70,"y":68},{"n":59,"f":"t","x":60,"y":93},{"n":59,"f":"t","x":30,"y":115},{"n":59,"f":"t","x":0,"y":131},
{"n":60,"f":"t","x":108,"y":0},{"n":60,"f":"t","x":100,"y":35},{"n":60,"f":"t","x":85,"y":65},{"n":60,"f":"t","x":60,"y":104},{"n":60,"f":"t","x":0,"y":139},
{"n":61,"f":"t","x":120,"y":0},{"n":61,"f":"t","x":110,"y":40},{"n":61,"f":"t","x":90,"y":78},{"n":61,"f":"t","x":60,"y":116},{"n":61,"f":"t","x":0,"y":146},
{"n":62,"f":"t","x":132,"y":0},{"n":62,"f":"t","x":122,"y":45},{"n":62,"f":"t","x":95,"y":90},{"n":62,"f":"t","x":60,"y":128},{"n":62,"f":"t","x":0,"y":151},
{"n":63,"f":"t","x":145,"y":0},{"n":63,"f":"t","x":135,"y":45},{"n":63,"f":"t","x":120,"y":70},{"n":63,"f":"t","x":90,"y":105},{"n":63,"f":"t","x":60,"y":136},{"n":63,"f":"t","x":0,"y":156},
{"n":64,"f":"t","x":158,"y":0},{"n":64,"f":"t","x":147,"y":45},{"n":64,"f":"t","x":120,"y":93},{"n":64,"f":"t","x":60,"y":143},{"n":64,"f":"t","x":0,"y":161},
{"n":65,"f":"t","x":170,"y":0},{"n":65,"f":"t","x":160,"y":45},{"n":65,"f":"t","x":120,"y":106},{"n":65,"f":"t","x":60,"y":149},{"n":65,"f":"t","x":0,"y":164},
{"n":66,"f":"t","x":185,"y":0},{"n":66,"f":"t","x":176,"y":45},{"n":66,"f":"t","x":150,"y":85},{"n":66,"f":"t","x":120,"y":119},{"n":66,"f":"t","x":60,"y":154},{"n":66,"f":"t","x":0,"y":167},
{"n":67,"f":"t","x":197,"y":0},{"n":67,"f":"t","x":190,"y":45},{"n":67,"f":"t","x":160,"y":90},{"n":67,"f":"t","x":120,"y":131},{"n":67,"f":"t","x":60,"y":159},{"n":67,"f":"t","x":0,"y":169},
{"n":68,"f":"t","x":207,"y":0},{"n":68,"f":"t","x":200,"y":50},{"n":68,"f":"t","x":175,"y":92},{"n":68,"f":"t","x":120,"y":139},{"n":68,"f":"t","x":60,"y":164},{"n":68,"f":"t","x":0,"y":171},
{"n":69,"f":"t","x":0,"y":172},{"n":69,"f":"t","x":60,"y":168},{"n":69,"f":"t","x":120,"y":146},{"n":69,"f":"t","x":150,"y":122},{"n":69,"f":"t","x":176,"y":116},{"n":69,"f":"t","x":198,"y":121},{"n":69,"f":"t","x":207,"y":140},{"n":69,"f":"t","x":209,"y":174},
{"n":70,"f":"t","x":0,"y":172.5},{"n":70,"f":"t","x":60,"y":170},{"n":70,"f":"t","x":120,"y":151},{"n":70,"f":"t","x":150,"y":135},{"n":70,"f":"t","x":176,"y":129},{"n":70,"f":"t","x":195,"y":137},{"n":70,"f":"t","x":204,"y":155},{"n":70,"f":"t","x":205,"y":174},
{"n":71,"f":"t","x":0,"y":173},{"n":71,"f":"t","x":60,"y":171.5},{"n":71,"f":"t","x":120,"y":156},{"n":71,"f":"t","x":150,"y":146},{"n":71,"f":"t","x":176,"y":141},{"n":71,"f":"t","x":192,"y":150},{"n":71,"f":"t","x":198,"y":174},
{"n":72,"f":"t","x":0,"y":173.3},{"n":72,"f":"t","x":60,"y":172.5},{"n":72,"f":"t","x":120,"y":163},{"n":72,"f":"t","x":150,"y":157},{"n":72,"f":"t","x":176,"y":152},{"n":72,"f":"t","x":190,"y":160},{"n":72,"f":"t","x":194,"y":174},
{"n":73,"f":"t","x":0,"y":173.6},{"n":73,"f":"t","x":60,"y":173},{"n":73,"f":"t","x":120,"y":167},{"n":73,"f":"t","x":150,"y":167},{"n":73,"f":"t","x":176,"y":162},{"n":73,"f":"t","x":185,"y":174},
{"n":88,"f":"t","x":0,"y":173.8},{"n":88,"f":"t","x":60,"y":173.5},{"n":88,"f":"t","x":120,"y":171},{"n":88,"f":"t","x":150,"y":174},
{"n":89,"f":"t","x":0,"y":174},{"n":89,"f":"t","x":80,"y":173.8},{"n":89,"f":"t","x":120,"y":174},
{"n":74,"f":"t","x":217,"y":0},{"n":74,"f":"t","x":212,"y":45},{"n":74,"f":"t","x":211,"y":95},{"n":74,"f":"t","x":211,"y":135},{"n":74,"f":"t","x":212,"y":174},
{"n":75,"f":"t","x":225,"y":0},{"n":75,"f":"t","x":222,"y":45},{"n":75,"f":"t","x":222,"y":95},{"n":75,"f":"t","x":222,"y":135},{"n":75,"f":"t","x":222,"y":174},
{"n":76,"f":"t","x":231,"y":0},{"n":76,"f":"t","x":232,"y":45},{"n":76,"f":"t","x":233,"y":95},{"n":76,"f":"t","x":234,"y":135},{"n":76,"f":"t","x":235,"y":174},
{"n":77,"f":"t","x":238,"y":0},{"n":77,"f":"t","x":241,"y":45},{"n":77,"f":"t","x":244,"y":95},{"n":77,"f":"t","x":246,"y":135},{"n":77,"f":"t","x":247,"y":174},
{"n":78,"f":"t","x":249,"y":0},{"n":78,"f":"t","x":251,"y":45},{"n":78,"f":"t","x":255,"y":95},{"n":78,"f":"t","x":256,"y":135},{"n":78,"f":"t","x":257,"y":174},
{"n":79,"f":"t","x":259,"y":0},{"n":79,"f":"t","x":261,"y":45},{"n":79,"f":"t","x":266,"y":95},{"n":79,"f":"t","x":268,"y":135},{"n":79,"f":"t","x":272,"y":174},
{"n":80,"f":"t","x":349,"y":15},{"n":80,"f":"t","x":345,"y":4},{"n":80,"f":"t","x":335,"y":1},{"n":80,"f":"t","x":295,"y":1},{"n":80,"f":"t","x":281,"y":20},{"n":80,"f":"t","x":272,"y":58},{"n":80,"f":"t","x":270,"y":95},{"n":80,"f":"t","x":274,"y":135},{"n":80,"f":"t","x":284,"y":165},{"n":80,"f":"t","x":295,"y":173},{"n":80,"f":"t","x":340,"y":173},{"n":80,"f":"t","x":349,"y":160},
{"n":81,"f":"t","x":348,"y":25},{"n":81,"f":"t","x":335,"y":9},{"n":81,"f":"t","x":315,"y":5},{"n":81,"f":"t","x":297,"y":11},{"n":81,"f":"t","x":285,"y":31},{"n":81,"f":"t","x":279,"y":58},{"n":81,"f":"t","x":279,"y":95},{"n":81,"f":"t","x":284,"y":134},{"n":81,"f":"t","x":293,"y":164},{"n":81,"f":"t","x":312,"y":171},{"n":81,"f":"t","x":339,"y":168},{"n":81,"f":"t","x":349,"y":156},
{"n":82,"f":"t","x":347,"y":44},{"n":82,"f":"t","x":330,"y":40},{"n":82,"f":"t","x":319,"y":34},{"n":82,"f":"t","x":308,"y":50},{"n":82,"f":"t","x":300,"y":76},{"n":82,"f":"t","x":299,"y":100},{"n":82,"f":"t","x":302,"y":130},{"n":82,"f":"t","x":319,"y":157},{"n":82,"f":"t","x":332,"y":156},{"n":82,"f":"t","x":345,"y":134},
{"n":83,"f":"t","x":329,"y":30},{"n":83,"f":"t","x":340,"y":33},{"n":83,"f":"t","x":342,"y":44},{"n":83,"f":"t","x":332,"y":54},{"n":83,"f":"t","x":319,"y":68},{"n":83,"f":"t","x":312,"y":84},{"n":83,"f":"t","x":312,"y":95},{"n":83,"f":"t","x":316,"y":112},{"n":83,"f":"t","x":330,"y":127},{"n":83,"f":"t","x":343,"y":128},{"n":83,"f":"t","x":344,"y":140},{"n":83,"f":"t","x":336,"y":146},{"n":83,"f":"t","x":328,"y":143},
{"n":84,"f":"t","x":349,"y":65},{"n":84,"f":"t","x":340,"y":68},{"n":84,"f":"t","x":329,"y":81},{"n":84,"f":"t","x":327,"y":90},{"n":84,"f":"t","x":331,"y":101},{"n":84,"f":"t","x":349,"y":108},
{"n":85,"f":"t","x":349,"y":76},{"n":85,"f":"t","x":342,"y":80},{"n":85,"f":"t","x":338,"y":87},{"n":85,"f":"t","x":342,"y":94},{"n":85,"f":"t","x":349,"y":98}
]},
"mark":{"type":"line","interpolate":"catmull-rom","strokeWidth":1.8,"opacity":0.9,"clip":true},
"encoding":{"x":{"field":"x","type":"quantitative","scale":{"domain":[0,349],"nice":false,"zero":false},"axis":{"title":"(b)","domain":false,"ticks":false,"labels":false,"grid":false}},"y":{"field":"y","type":"quantitative","scale":{"domain":[0,174],"reverse":true,"nice":false,"zero":false},"axis":null},"color":{"field":"f","type":"nominal","scale":{"domain":["o","t"],"range":["#fc8d62","#66c2a5"]},"legend":null},"detail":{"field":"n"},"order":{"value":null}}}
]},
{"width":347,"height":173,
"layer":[
{"data":{"values":[
{"n":1,"f":"r","x":0,"y":12},{"n":1,"f":"r","x":27,"y":19},{"n":1,"f":"r","x":67,"y":27},{"n":1,"f":"r","x":97,"y":36},{"n":1,"f":"r","x":127,"y":48},{"n":1,"f":"r","x":154,"y":64},{"n":1,"f":"r","x":181,"y":83},{"n":1,"f":"r","x":202,"y":106},
{"n":2,"f":"r","x":202,"y":106},{"n":2,"f":"r","x":194,"y":128},{"n":2,"f":"r","x":184,"y":148},{"n":2,"f":"r","x":174,"y":173},
{"n":3,"f":"r","x":202,"y":106},{"n":3,"f":"r","x":249,"y":100},{"n":3,"f":"r","x":309,"y":93},{"n":3,"f":"r","x":347,"y":87},
{"n":4,"f":"r","x":346,"y":2},{"n":4,"f":"r","x":336,"y":13},{"n":4,"f":"r","x":327,"y":23},{"n":4,"f":"r","x":328,"y":28},{"n":4,"f":"r","x":342,"y":58},{"n":4,"f":"r","x":347,"y":60},
{"n":5,"f":"r","x":337,"y":38},{"n":5,"f":"r","x":347,"y":37},
{"n":6,"f":"r","x":347,"y":114},{"n":6,"f":"r","x":341,"y":115},{"n":6,"f":"r","x":327,"y":143},{"n":6,"f":"r","x":328,"y":149},{"n":6,"f":"r","x":346,"y":172},
{"n":7,"f":"r","x":337,"y":134},{"n":7,"f":"r","x":347,"y":136},
{"n":8,"f":"b","x":202,"y":106},{"n":8,"f":"b","x":211,"y":75},{"n":8,"f":"b","x":219,"y":41},{"n":8,"f":"b","x":225,"y":15},{"n":8,"f":"b","x":228,"y":0},
{"n":9,"f":"b","x":202,"y":106},{"n":9,"f":"b","x":213,"y":125},{"n":9,"f":"b","x":221,"y":150},{"n":9,"f":"b","x":226,"y":173},
{"n":10,"f":"b","x":202,"y":106},{"n":10,"f":"b","x":174,"y":113},{"n":10,"f":"b","x":151,"y":126},{"n":10,"f":"b","x":127,"y":148},{"n":10,"f":"b","x":111,"y":159},{"n":10,"f":"b","x":84,"y":166},{"n":10,"f":"b","x":0,"y":171},
{"n":11,"f":"b","x":337,"y":38},{"n":11,"f":"b","x":322,"y":46},{"n":11,"f":"b","x":311,"y":61},{"n":11,"f":"b","x":306,"y":84},{"n":11,"f":"b","x":311,"y":108},{"n":11,"f":"b","x":321,"y":124},{"n":11,"f":"b","x":337,"y":134}
]},
"mark":{"type":"line","interpolate":"catmull-rom","strokeWidth":2.2},
"encoding":{"x":{"field":"x","type":"quantitative","scale":{"domain":[0,347],"nice":false,"zero":false},"axis":{"title":"(c)","domain":false,"ticks":false,"labels":false,"grid":false}},"y":{"field":"y","type":"quantitative","scale":{"domain":[0,173],"reverse":true,"nice":false,"zero":false},"axis":null},"color":{"field":"f","type":"nominal","scale":{"domain":["r","b"],"range":["#ff0000","#0000ff"]},"legend":null},"detail":{"field":"n"},"order":{"value":null}}},
{"data":{"values":[{"x":202,"y":106,"s":"circle"},{"x":346,"y":1,"s":"square"},{"x":337,"y":38,"s":"square"},{"x":337,"y":135,"s":"square"},{"x":346,"y":172,"s":"square"}]},
"mark":{"type":"point","filled":false,"stroke":"#111","strokeWidth":2,"size":75,"opacity":1},
"encoding":{"x":{"field":"x","type":"quantitative"},"y":{"field":"y","type":"quantitative"},"shape":{"field":"s","type":"nominal","scale":{"domain":["circle","square"],"range":["circle","square"]},"legend":null}}}
]}
]}
